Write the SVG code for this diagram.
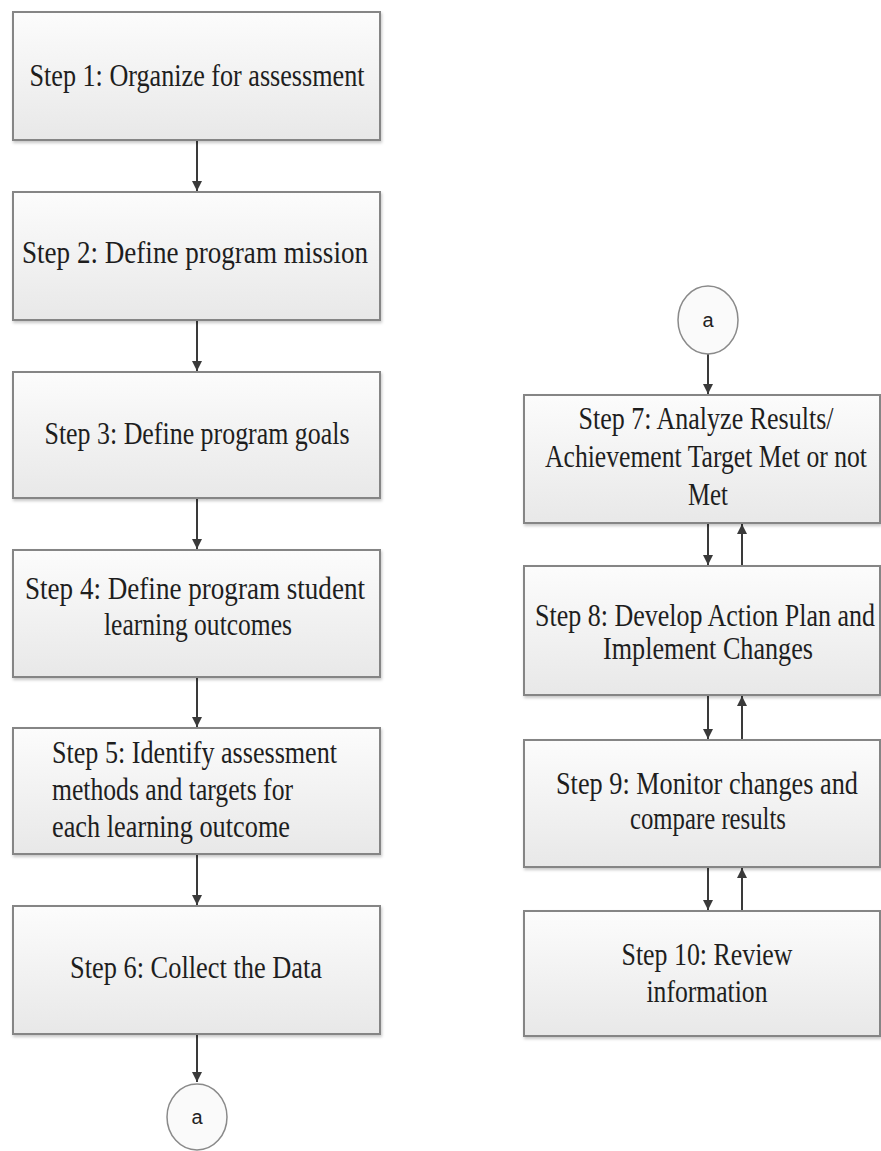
<svg xmlns="http://www.w3.org/2000/svg" width="881" height="1151" viewBox="0 0 881 1151">
<style>
.box{fill:url(#g);stroke:#858585;stroke-width:2;filter:url(#sh)}
.t{font-family:"Liberation Serif","Times New Roman",serif;font-size:32px;fill:#1e1e1e;text-anchor:middle}
.c{fill:#fafafa;stroke:#8a8a8a;stroke-width:1.5}
.ct{font-family:"Liberation Sans",Arial,sans-serif;font-size:20px;fill:#222;text-anchor:middle}
.ln{stroke:#3a3a3a;stroke-width:2;fill:none}
</style>
<defs>
<linearGradient id="g" x1="0" y1="0" x2="0" y2="1">
<stop offset="0" stop-color="#fcfcfc"/>
<stop offset="1" stop-color="#e8e8e8"/>
</linearGradient>
<filter id="sh" x="-5%" y="-5%" width="110%" height="115%">
<feDropShadow dx="1" dy="2" stdDeviation="1.5" flood-color="#000" flood-opacity="0.22"/>
</filter>
<marker id="ah" viewBox="0 0 10 10" refX="10" refY="5" markerWidth="10" markerHeight="10" markerUnits="userSpaceOnUse" orient="auto">
<path d="M0,0 L10,5 L0,10 z" fill="#3a3a3a"/>
</marker>
</defs>
<rect width="881" height="1151" fill="#fff"/>

<g id="connectors">
<line class="ln" x1="197" y1="140" x2="197" y2="191" marker-end="url(#ah)"/>
<line class="ln" x1="197" y1="320" x2="197" y2="371" marker-end="url(#ah)"/>
<line class="ln" x1="197" y1="498" x2="197" y2="549" marker-end="url(#ah)"/>
<line class="ln" x1="197" y1="677" x2="197" y2="727" marker-end="url(#ah)"/>
<line class="ln" x1="197" y1="854" x2="197" y2="905" marker-end="url(#ah)"/>
<line class="ln" x1="197" y1="1034" x2="197" y2="1082" marker-end="url(#ah)"/>
<line class="ln" x1="708" y1="354" x2="708" y2="394" marker-end="url(#ah)"/>
<line class="ln" x1="708" y1="523" x2="708" y2="565" marker-end="url(#ah)"/>
<line class="ln" x1="742" y1="566" x2="742" y2="524" marker-end="url(#ah)"/>
<line class="ln" x1="708" y1="695" x2="708" y2="739" marker-end="url(#ah)"/>
<line class="ln" x1="742" y1="740" x2="742" y2="696" marker-end="url(#ah)"/>
<line class="ln" x1="708" y1="867" x2="708" y2="910" marker-end="url(#ah)"/>
<line class="ln" x1="742" y1="911" x2="742" y2="868" marker-end="url(#ah)"/>
</g>

<g id="step1"><rect class="box" x="13" y="12" width="367" height="128"/>
<text class="t" x="197" y="86" textLength="335" lengthAdjust="spacingAndGlyphs">Step 1: Organize for assessment</text></g>

<g id="step2"><rect class="box" x="13" y="192" width="367" height="128"/>
<text class="t" x="195" y="263" textLength="346" lengthAdjust="spacingAndGlyphs">Step 2: Define program mission</text></g>

<g id="step3"><rect class="box" x="13" y="372" width="367" height="126"/>
<text class="t" x="197" y="444" textLength="305" lengthAdjust="spacingAndGlyphs">Step 3: Define program goals</text></g>

<g id="step4"><rect class="box" x="13" y="550" width="367" height="127"/>
<text class="t" x="195" y="599" textLength="340" lengthAdjust="spacingAndGlyphs">Step 4: Define program student</text>
<text class="t" x="198" y="635" textLength="188" lengthAdjust="spacingAndGlyphs">learning outcomes</text></g>

<g id="step5"><rect class="box" x="13" y="728" width="367" height="126"/>
<text class="t" x="52" y="763" textLength="285" lengthAdjust="spacingAndGlyphs" style="text-anchor:start">Step 5: Identify assessment</text>
<text class="t" x="52" y="800" textLength="241" lengthAdjust="spacingAndGlyphs" style="text-anchor:start">methods and targets for</text>
<text class="t" x="52" y="837" textLength="238" lengthAdjust="spacingAndGlyphs" style="text-anchor:start">each learning outcome</text></g>

<g id="step6"><rect class="box" x="13" y="906" width="367" height="128"/>
<text class="t" x="196" y="978" textLength="252" lengthAdjust="spacingAndGlyphs">Step 6: Collect the Data</text></g>

<g id="connector-a-bottom"><ellipse class="c" cx="197" cy="1117" rx="30" ry="33"/>
<text class="ct" x="197" y="1124">a</text></g>

<g id="connector-a-top"><ellipse class="c" cx="708" cy="320" rx="30" ry="34"/>
<text class="ct" x="708" y="327">a</text></g>

<g id="step7"><rect class="box" x="524" y="395" width="356" height="128"/>
<g transform="scale(0.8 1)">
<text class="t" x="882.5" y="429" textLength="318.75" lengthAdjust="spacingAndGlyphs">Step 7: Analyze Results/</text>
<text class="t" x="882.5" y="467" textLength="402.5" lengthAdjust="spacingAndGlyphs">Achievement Target Met or not</text>
<text class="t" x="885" y="505" textLength="50" lengthAdjust="spacingAndGlyphs">Met</text></g></g>

<g id="step8"><rect class="box" x="524" y="566" width="356" height="129"/>
<g transform="scale(0.8 1)">
<text class="t" x="881.25" y="626" textLength="425" lengthAdjust="spacingAndGlyphs">Step 8: Develop Action Plan and</text>
<text class="t" x="885" y="659" textLength="262.5" lengthAdjust="spacingAndGlyphs">Implement Changes</text></g></g>

<g id="step9"><rect class="box" x="524" y="740" width="356" height="127"/>
<g transform="scale(0.8 1)">
<text class="t" x="883.75" y="794" textLength="377.5" lengthAdjust="spacingAndGlyphs">Step 9: Monitor changes and</text>
<text class="t" x="885" y="829" textLength="195" lengthAdjust="spacingAndGlyphs">compare results</text></g></g>

<g id="step10"><rect class="box" x="524" y="911" width="356" height="125"/>
<g transform="scale(0.8 1)">
<text class="t" x="883.75" y="965" textLength="213.75" lengthAdjust="spacingAndGlyphs">Step 10: Review</text>
<text class="t" x="883.75" y="1002" textLength="151.25" lengthAdjust="spacingAndGlyphs">information</text></g></g>
</svg>
